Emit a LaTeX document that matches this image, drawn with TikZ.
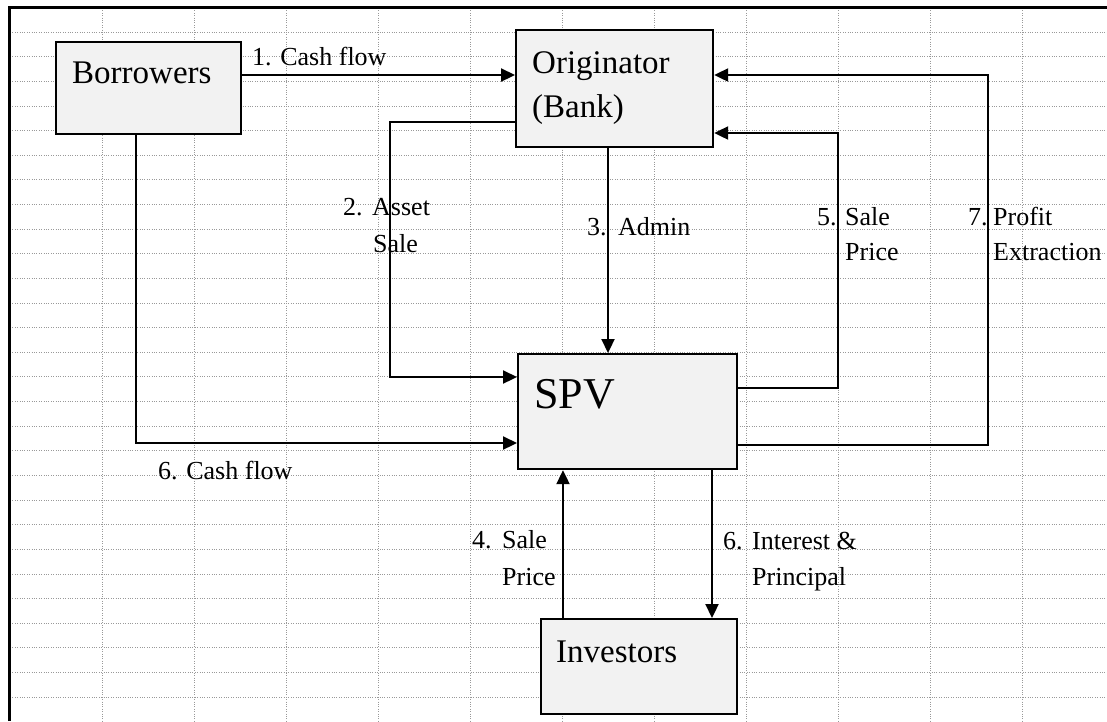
\documentclass[tikz,border=0pt]{standalone}
\usepackage{fontspec}
\setmainfont{Liberation Serif}
\usetikzlibrary{arrows.meta}
\tikzset{
  gridline/.style={gray!80, line width=0.7pt, dash pattern=on 1pt off 1.4pt},
  box/.style={draw=black, line width=2.2pt, fill=gray!10, inner sep=0pt, anchor=north west},
  boxtxt/.style={inner sep=0pt, anchor=base west, font=\fontsize{33}{40}\selectfont},
  bigtxt/.style={inner sep=0pt, anchor=base west, font=\fontsize{44}{50}\selectfont},
  lbl/.style={inner sep=0pt, anchor=base west, font=\fontsize{26}{37}\selectfont},
  arr/.style={line width=2.2pt, -{Triangle[length=14pt,width=13pt]}}
}
\begin{document}
\begin{tikzpicture}[x=1pt,y=-1pt]
\useasboundingbox (0,0) rectangle (1107,721);
\fill[white] (0,0) rectangle (1107,721);
% grid
\foreach \i in {0,...,10} {\draw[gridline] ({102+92*\i},8) -- ({102+92*\i},721);}
\foreach \j in {0,...,27} {\draw[gridline] (10,{32+24.63*\j}) -- (1107,{32+24.63*\j});}
% frame
\draw[line width=3pt] (9,721) -- (9,7) -- (1107,7);
% boxes
\node[box, minimum width=185pt, minimum height=92pt] (bor) at (55,41) {};
\node[box, minimum width=197pt, minimum height=117pt] (orig) at (515,29) {};
\node[box, minimum width=219pt, minimum height=115pt] (spv) at (517,353) {};
\node[box, minimum width=196pt, minimum height=95pt] (inv) at (540,618) {};
\node[boxtxt] (borT) at (72,83) {Borrowers};
\node[boxtxt] (origT1) at (532,73) {Originator};
\node[boxtxt] (origT2) at (532,117) {(Bank)};
\node[bigtxt] (spvT) at (534,408) {SPV};
\node[boxtxt] (invT) at (556,662) {Investors};
% connectors
\draw[arr] (bor.east |- 0,75) -- (orig.west |- 0,75);
\draw[arr] (orig.west |- 0,122) -- (390,122) -- (390,377) -- (spv.west |- 0,377);
\draw[arr] (608,0 |- orig.south) -- (608,0 |- spv.north);
\draw[arr] (563,0 |- inv.north) -- (563,0 |- spv.south);
\draw[arr] (712,0 |- spv.south) -- (712,0 |- inv.north);
\draw[arr] (spv.east |- 0,388) -- (838,388) -- (838,133) -- (orig.east |- 0,133);
\draw[arr] (spv.east |- 0,445) -- (988,445) -- (988,75) -- (orig.east |- 0,75);
\draw[arr] (136,0 |- bor.south) -- (136,443) -- (spv.west |- 0,443);
% labels
\node[lbl] (l1) at (252,65) {1. Cash flow};
\node[lbl] (l2a) at (343,215) {2.};
\node[lbl] (l2b) at (372,215) {Asset};
\node[lbl] (l2c) at (373,252) {Sale};
\node[lbl] (l3a) at (587,235) {3.};
\node[lbl] (l3b) at (618,235) {Admin};
\node[lbl] (l5a) at (817,225) {5.};
\node[lbl] (l5b) at (845,225) {Sale};
\node[lbl] (l5c) at (845,260) {Price};
\node[lbl] (l7a) at (968,225) {7.};
\node[lbl] (l7b) at (993,225) {Profit};
\node[lbl] (l7c) at (993,260) {Extraction};
\node[lbl] (l4a) at (472,548) {4.};
\node[lbl] (l4b) at (502,548) {Sale};
\node[lbl] (l4c) at (502,585) {Price};
\node[lbl] (l6a) at (723,549) {6.};
\node[lbl] (l6b) at (752,549) {Interest \&};
\node[lbl] (l6c) at (752,585) {Principal};
\node[lbl] (l6d) at (158,479) {6. Cash flow};
\end{tikzpicture}
\end{document}
